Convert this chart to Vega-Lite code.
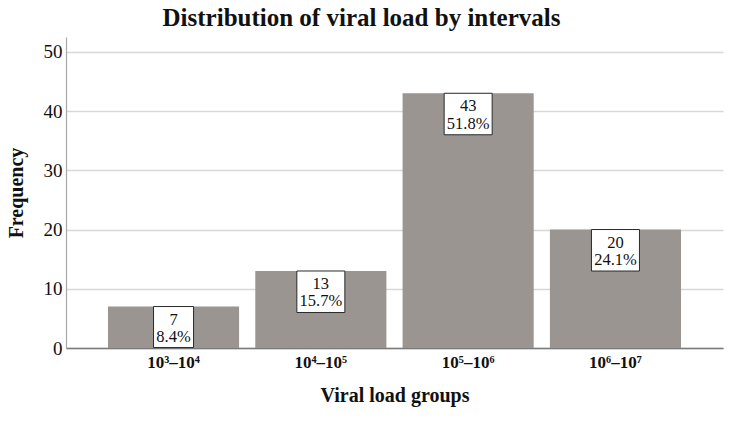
{
  "$schema": "https://vega.github.io/schema/vega-lite/v6.json",
  "width": 657,
  "height": 311,
  "autosize": {"type": "none"},
  "padding": {"left": 66, "top": 37, "right": 12, "bottom": 73},
  "background": "white",
  "config": {
    "view": {"stroke": null},
    "font": "Liberation Serif"
  },
  "title": {
    "text": "Distribution of viral load by intervals",
    "font": "Liberation Serif",
    "fontSize": 25,
    "fontWeight": "bold",
    "color": "#111111",
    "anchor": "middle",
    "frame": "group",
    "dx": -33,
    "offset": 6
  },
  "data": {
    "values": [
      {"group": "10³–10⁴", "count": 7, "percent": "8.4%"},
      {"group": "10⁴–10⁵", "count": 13, "percent": "15.7%"},
      {"group": "10⁵–10⁶", "count": 43, "percent": "51.8%"},
      {"group": "10⁶–10⁷", "count": 20, "percent": "24.1%"}
    ]
  },
  "encoding": {
    "x": {
      "field": "group",
      "type": "nominal",
      "sort": null,
      "scale": {"paddingInner": 0.11, "paddingOuter": 0.285},
      "axis": {
        "title": "Viral load groups",
        "titleFont": "Liberation Serif",
        "titleFontSize": 20,
        "titleFontWeight": "bold",
        "titleColor": "#111111",
        "titlePadding": 15,
        "labelFont": "Liberation Serif",
        "labelFontSize": 17,
        "labelFontWeight": "bold",
        "labelColor": "#111111",
        "labelAngle": 0,
        "labelPadding": 6,
        "ticks": false,
        "domainColor": "#7a7a7a",
        "domainWidth": 1.5
      }
    },
    "y": {
      "field": "count",
      "type": "quantitative",
      "scale": {"domain": [0, 52.5], "nice": false},
      "axis": {
        "title": "Frequency",
        "titleFont": "Liberation Serif",
        "titleFontSize": 20,
        "titleFontWeight": "bold",
        "titleColor": "#111111",
        "titlePadding": 17,
        "values": [0, 10, 20, 30, 40, 50],
        "labelFont": "Liberation Serif",
        "labelFontSize": 19,
        "labelColor": "#111111",
        "labelPadding": 4,
        "ticks": false,
        "domainColor": "#a8a8a8",
        "domainWidth": 1.2,
        "grid": true,
        "gridColor": "#d8d8d8",
        "gridWidth": 1.5
      }
    }
  },
  "layer": [
    {
      "mark": {"type": "bar", "color": "#9a9591"}
    },
    {
      "mark": {
        "type": "point",
        "filled": true,
        "fill": "white",
        "stroke": "#2a2a2a",
        "strokeWidth": 1,
        "opacity": 1,
        "size": 4
      },
      "encoding": {
        "shape": {
          "field": "group",
          "type": "nominal",
          "sort": null,
          "scale": {
            "domain": ["10³–10⁴", "10⁴–10⁵", "10⁵–10⁶", "10⁶–10⁷"],
            "range": [
              "M-20,0H20V41H-20Z",
              "M-24,0H24V41.5H-24Z",
              "M-24,0H24V41.5H-24Z",
              "M-24,0H24V41.5H-24Z"
            ]
          },
          "legend": null
        }
      }
    },
    {
      "mark": {
        "type": "text",
        "font": "Liberation Serif",
        "fontSize": 16.5,
        "color": "#111111",
        "baseline": "alphabetic",
        "dy": 18
      },
      "encoding": {"text": {"field": "count", "type": "quantitative"}}
    },
    {
      "mark": {
        "type": "text",
        "font": "Liberation Serif",
        "fontSize": 16.5,
        "color": "#111111",
        "baseline": "alphabetic",
        "dy": 35.5
      },
      "encoding": {"text": {"field": "percent", "type": "nominal"}}
    }
  ]
}
